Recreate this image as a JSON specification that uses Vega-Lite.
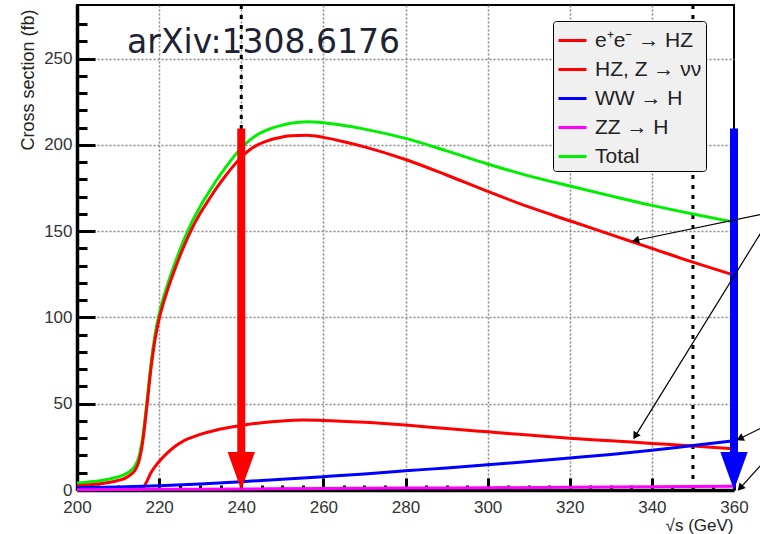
{
  "$schema": "https://vega.github.io/schema/vega-lite/v6.json",
  "width": 657,
  "height": 485,
  "autosize": {"type": "none"},
  "padding": {"left": 77, "top": 5, "right": 26, "bottom": 44},
  "background": "white",
  "config": {
    "font": "Liberation Sans",
    "view": {"stroke": "black", "strokeWidth": 2}
  },
  "datasets": {
    "curves": [
      {"process": "Total", "x": 200, "y": 4.0},
      {"process": "Total", "x": 204, "y": 4.9},
      {"process": "Total", "x": 208, "y": 6.4},
      {"process": "Total", "x": 210, "y": 7.6},
      {"process": "Total", "x": 212, "y": 9.5},
      {"process": "Total", "x": 213, "y": 11.1},
      {"process": "Total", "x": 214, "y": 13.5},
      {"process": "Total", "x": 215, "y": 18.6},
      {"process": "Total", "x": 216, "y": 30.6},
      {"process": "Total", "x": 217, "y": 50.7},
      {"process": "Total", "x": 218, "y": 72.8},
      {"process": "Total", "x": 219, "y": 89.8},
      {"process": "Total", "x": 220, "y": 101.9},
      {"process": "Total", "x": 222, "y": 118.6},
      {"process": "Total", "x": 224, "y": 132.4},
      {"process": "Total", "x": 226, "y": 144.6},
      {"process": "Total", "x": 228, "y": 155.3},
      {"process": "Total", "x": 230, "y": 164.3},
      {"process": "Total", "x": 232, "y": 172.1},
      {"process": "Total", "x": 234, "y": 179.6},
      {"process": "Total", "x": 236, "y": 186.3},
      {"process": "Total", "x": 238, "y": 192.6},
      {"process": "Total", "x": 240, "y": 198.2},
      {"process": "Total", "x": 242, "y": 202.6},
      {"process": "Total", "x": 244, "y": 206.0},
      {"process": "Total", "x": 246, "y": 208.3},
      {"process": "Total", "x": 248, "y": 210.1},
      {"process": "Total", "x": 250, "y": 211.4},
      {"process": "Total", "x": 252, "y": 212.5},
      {"process": "Total", "x": 256, "y": 213.4},
      {"process": "Total", "x": 260, "y": 212.8},
      {"process": "Total", "x": 265, "y": 211.2},
      {"process": "Total", "x": 270, "y": 209.1},
      {"process": "Total", "x": 280, "y": 203.7},
      {"process": "Total", "x": 290, "y": 196.5},
      {"process": "Total", "x": 300, "y": 188.9},
      {"process": "Total", "x": 310, "y": 182.0},
      {"process": "Total", "x": 320, "y": 176.1},
      {"process": "Total", "x": 330, "y": 170.4},
      {"process": "Total", "x": 340, "y": 164.9},
      {"process": "Total", "x": 350, "y": 159.9},
      {"process": "Total", "x": 360, "y": 155.2},
      {"process": "e⁺e⁻ → HZ", "x": 200, "y": 2.5},
      {"process": "e⁺e⁻ → HZ", "x": 204, "y": 3.2},
      {"process": "e⁺e⁻ → HZ", "x": 208, "y": 4.5},
      {"process": "e⁺e⁻ → HZ", "x": 210, "y": 5.5},
      {"process": "e⁺e⁻ → HZ", "x": 212, "y": 7.2},
      {"process": "e⁺e⁻ → HZ", "x": 213, "y": 8.8},
      {"process": "e⁺e⁻ → HZ", "x": 214, "y": 11},
      {"process": "e⁺e⁻ → HZ", "x": 215, "y": 16},
      {"process": "e⁺e⁻ → HZ", "x": 216, "y": 28},
      {"process": "e⁺e⁻ → HZ", "x": 217, "y": 48},
      {"process": "e⁺e⁻ → HZ", "x": 218, "y": 70},
      {"process": "e⁺e⁻ → HZ", "x": 219, "y": 87},
      {"process": "e⁺e⁻ → HZ", "x": 220, "y": 99},
      {"process": "e⁺e⁻ → HZ", "x": 222, "y": 115.5},
      {"process": "e⁺e⁻ → HZ", "x": 224, "y": 129},
      {"process": "e⁺e⁻ → HZ", "x": 226, "y": 141},
      {"process": "e⁺e⁻ → HZ", "x": 228, "y": 151.5},
      {"process": "e⁺e⁻ → HZ", "x": 230, "y": 160.3},
      {"process": "e⁺e⁻ → HZ", "x": 232, "y": 167.8},
      {"process": "e⁺e⁻ → HZ", "x": 234, "y": 175},
      {"process": "e⁺e⁻ → HZ", "x": 236, "y": 181.5},
      {"process": "e⁺e⁻ → HZ", "x": 238, "y": 187.5},
      {"process": "e⁺e⁻ → HZ", "x": 240, "y": 192.8},
      {"process": "e⁺e⁻ → HZ", "x": 242, "y": 197},
      {"process": "e⁺e⁻ → HZ", "x": 244, "y": 200},
      {"process": "e⁺e⁻ → HZ", "x": 246, "y": 202},
      {"process": "e⁺e⁻ → HZ", "x": 248, "y": 203.5},
      {"process": "e⁺e⁻ → HZ", "x": 250, "y": 204.5},
      {"process": "e⁺e⁻ → HZ", "x": 252, "y": 205.2},
      {"process": "e⁺e⁻ → HZ", "x": 256, "y": 205.5},
      {"process": "e⁺e⁻ → HZ", "x": 260, "y": 204.3},
      {"process": "e⁺e⁻ → HZ", "x": 265, "y": 201.8},
      {"process": "e⁺e⁻ → HZ", "x": 270, "y": 198.8},
      {"process": "e⁺e⁻ → HZ", "x": 280, "y": 191.5},
      {"process": "e⁺e⁻ → HZ", "x": 290, "y": 182.5},
      {"process": "e⁺e⁻ → HZ", "x": 300, "y": 173},
      {"process": "e⁺e⁻ → HZ", "x": 310, "y": 164},
      {"process": "e⁺e⁻ → HZ", "x": 320, "y": 156},
      {"process": "e⁺e⁻ → HZ", "x": 330, "y": 148},
      {"process": "e⁺e⁻ → HZ", "x": 340, "y": 140},
      {"process": "e⁺e⁻ → HZ", "x": 350, "y": 132},
      {"process": "e⁺e⁻ → HZ", "x": 360, "y": 124.5},
      {"process": "HZ, Z → νν", "x": 215, "y": 0},
      {"process": "HZ, Z → νν", "x": 216, "y": 1},
      {"process": "HZ, Z → νν", "x": 217, "y": 5},
      {"process": "HZ, Z → νν", "x": 218, "y": 10},
      {"process": "HZ, Z → νν", "x": 219, "y": 13.5},
      {"process": "HZ, Z → νν", "x": 220, "y": 16.5},
      {"process": "HZ, Z → νν", "x": 222, "y": 21.5},
      {"process": "HZ, Z → νν", "x": 224, "y": 25.5},
      {"process": "HZ, Z → νν", "x": 226, "y": 28.5},
      {"process": "HZ, Z → νν", "x": 228, "y": 30.5},
      {"process": "HZ, Z → νν", "x": 230, "y": 32.2},
      {"process": "HZ, Z → νν", "x": 234, "y": 34.8},
      {"process": "HZ, Z → νν", "x": 238, "y": 36.6},
      {"process": "HZ, Z → νν", "x": 240, "y": 37.4},
      {"process": "HZ, Z → νν", "x": 245, "y": 39},
      {"process": "HZ, Z → νν", "x": 250, "y": 40},
      {"process": "HZ, Z → νν", "x": 255, "y": 40.5},
      {"process": "HZ, Z → νν", "x": 260, "y": 40.3},
      {"process": "HZ, Z → νν", "x": 270, "y": 39.2},
      {"process": "HZ, Z → νν", "x": 280, "y": 37.6},
      {"process": "HZ, Z → νν", "x": 290, "y": 35.6},
      {"process": "HZ, Z → νν", "x": 300, "y": 33.7},
      {"process": "HZ, Z → νν", "x": 310, "y": 31.8},
      {"process": "HZ, Z → νν", "x": 320, "y": 30},
      {"process": "HZ, Z → νν", "x": 330, "y": 28.5},
      {"process": "HZ, Z → νν", "x": 340, "y": 27},
      {"process": "HZ, Z → νν", "x": 350, "y": 25.5},
      {"process": "HZ, Z → νν", "x": 360, "y": 23.8},
      {"process": "WW → H", "x": 200, "y": 1.3},
      {"process": "WW → H", "x": 210, "y": 1.8},
      {"process": "WW → H", "x": 220, "y": 2.5},
      {"process": "WW → H", "x": 230, "y": 3.5},
      {"process": "WW → H", "x": 240, "y": 4.8},
      {"process": "WW → H", "x": 250, "y": 6.2},
      {"process": "WW → H", "x": 260, "y": 7.7},
      {"process": "WW → H", "x": 270, "y": 9.3},
      {"process": "WW → H", "x": 280, "y": 11.1},
      {"process": "WW → H", "x": 290, "y": 12.8},
      {"process": "WW → H", "x": 300, "y": 14.6},
      {"process": "WW → H", "x": 310, "y": 16.5},
      {"process": "WW → H", "x": 320, "y": 18.5},
      {"process": "WW → H", "x": 330, "y": 20.6},
      {"process": "WW → H", "x": 340, "y": 23},
      {"process": "WW → H", "x": 350, "y": 25.8},
      {"process": "WW → H", "x": 360, "y": 28.5},
      {"process": "ZZ → H", "x": 200, "y": 0.2},
      {"process": "ZZ → H", "x": 220, "y": 0.4},
      {"process": "ZZ → H", "x": 240, "y": 0.6},
      {"process": "ZZ → H", "x": 260, "y": 0.8},
      {"process": "ZZ → H", "x": 280, "y": 1.1},
      {"process": "ZZ → H", "x": 300, "y": 1.3},
      {"process": "ZZ → H", "x": 320, "y": 1.6},
      {"process": "ZZ → H", "x": 340, "y": 1.9},
      {"process": "ZZ → H", "x": 360, "y": 2.2}
    ],
    "vlines": [{"x": 240}, {"x": 350}],
    "big": [
      {"id": "red", "x": 240, "y": 209.5, "y2": 21, "hy": 11},
      {"id": "blue", "x": 360, "y": 209.5, "y2": 21, "hy": 11}
    ],
    "thin": [
      {"id": 1, "x": 366.6, "y": 159.7, "x2": 336.3, "y2": 144.7},
      {"id": 2, "x": 366.6, "y": 149.3, "x2": 336.1, "y2": 31.8},
      {"id": 3, "x": 366.6, "y": 35.9, "x2": 361.7, "y2": 30.1},
      {"id": 4, "x": 366.6, "y": 14.5, "x2": 361.7, "y2": 1.7}
    ],
    "label": [{"x": 212.2, "y": 253, "t": "arXiv:1308.6176"}]
  },
  "layer": [
    {
      "data": {"name": "vlines"},
      "mark": {"type": "rule", "color": "black", "strokeWidth": 3, "strokeDash": [4, 6]},
      "encoding": {
        "x": {"field": "x", "type": "quantitative"}
      }
    },
    {
      "data": {"name": "curves"},
      "mark": {"type": "line", "strokeWidth": 3, "interpolate": "monotone"},
      "encoding": {
        "x": {
          "field": "x", "type": "quantitative",
          "scale": {"domain": [200, 360], "nice": false, "zero": false},
          "axis": {
            "values": [200,205,210,215,220,225,230,235,240,245,250,255,260,265,270,275,280,285,290,295,300,305,310,315,320,325,330,335,340,345,350,355,360],
            "tickCount": 200,
            "title": "√s (GeV)",
            "titleX": 656, "titleY": 35, "titleAlign": "right", "titleBaseline": "middle",
            "titleFontSize": 17, "titleFontWeight": "normal", "titleColor": "#222",
            "labelExpr": "datum.value % 20 === 0 ? datum.label : ''",
            "labelFontSize": 17, "labelColor": "#333", "labelPadding": 21,
            "labelFlush": false, "labelOverlap": false,
            "tickSize": {"condition": {"test": "datum.value % 20 === 0", "value": -12}, "value": -5},
            "tickWidth": 3, "tickColor": "black",
            "domainColor": "black", "domainWidth": 3.5,
            "grid": true, "gridColor": "#888", "gridDash": [2, 2], "gridWidth": 1.5,
            "gridOpacity": {"condition": {"test": "datum.value % 20 === 0 && datum.value > 200 && datum.value < 360", "value": 1}, "value": 0}
          }
        },
        "y": {
          "field": "y", "type": "quantitative",
          "scale": {"domain": [0, 281], "nice": false},
          "axis": {
            "values": [0,10,20,30,40,50,60,70,80,90,100,110,120,130,140,150,160,170,180,190,200,210,220,230,240,250,260,270],
            "tickCount": 200,
            "title": "Cross section (fb)",
            "titleX": -49, "titleY": 4, "titleAngle": -90, "titleAlign": "right", "titleBaseline": "middle",
            "titleFontSize": 18, "titleFontWeight": "normal", "titleColor": "#222",
            "labelExpr": "datum.value % 50 === 0 ? datum.label : ''",
            "labelFontSize": 17, "labelColor": "#333", "labelPadding": 23,
            "labelFlush": false, "labelOverlap": false,
            "tickSize": {"condition": {"test": "datum.value % 50 === 0", "value": -18}, "value": -10},
            "tickWidth": 3, "tickColor": "black",
            "domainColor": "black", "domainWidth": 3.5,
            "grid": true, "gridColor": "#888", "gridDash": [2, 2], "gridWidth": 1.5,
            "gridOpacity": {"condition": {"test": "datum.value % 50 === 0 && datum.value > 0", "value": 1}, "value": 0}
          }
        },
        "color": {
          "field": "process", "type": "nominal",
          "scale": {
            "domain": ["e⁺e⁻ → HZ", "HZ, Z → νν", "WW → H", "ZZ → H", "Total"],
            "range": ["#ff0000", "#ff0000", "#0000ff", "#ff00ff", "#00ee00"]
          },
          "legend": {
            "orient": "none", "legendX": 476, "legendY": 16, "title": null,
            "symbolType": "stroke", "symbolSize": 784, "symbolStrokeWidth": 3,
            "labelFontSize": 21, "labelColor": "#222", "labelOffset": 7,
            "fillColor": "#f0f0f0", "strokeColor": "black", "cornerRadius": 3,
            "padding": 4, "rowPadding": 3
          }
        },
        "order": {"field": "x", "type": "quantitative"}
      }
    },
    {
      "data": {"name": "big"},
      "transform": [{"filter": "datum.id === 'red'"}],
      "layer": [
        {
          "mark": {"type": "rule", "color": "#ff0000", "strokeWidth": 8, "strokeCap": "butt"},
          "encoding": {
            "x": {"field": "x", "type": "quantitative"},
            "y": {"field": "y", "type": "quantitative"},
            "y2": {"field": "y2"}
          }
        },
        {
          "mark": {"type": "point", "shape": "M -0.72 -1 L 0.72 -1 L 0 1 Z", "size": 1444, "filled": true, "color": "#ff0000", "opacity": 1},
          "encoding": {
            "x": {"field": "x", "type": "quantitative"},
            "y": {"field": "hy", "type": "quantitative"}
          }
        }
      ]
    },
    {
      "data": {"name": "big"},
      "transform": [{"filter": "datum.id === 'blue'"}],
      "layer": [
        {
          "mark": {"type": "rule", "color": "#0000ff", "strokeWidth": 8, "strokeCap": "butt", "clip": false},
          "encoding": {
            "x": {"field": "x", "type": "quantitative"},
            "y": {"field": "y", "type": "quantitative"},
            "y2": {"field": "y2"}
          }
        },
        {
          "mark": {"type": "point", "shape": "M -0.72 -1 L 0.72 -1 L 0 1 Z", "size": 1444, "filled": true, "color": "#0000ff", "opacity": 1, "clip": false},
          "encoding": {
            "x": {"field": "x", "type": "quantitative"},
            "y": {"field": "hy", "type": "quantitative"}
          }
        }
      ]
    },
    {
      "data": {"name": "thin"},
      "mark": {"type": "rule", "color": "black", "strokeWidth": 1.2, "clip": false},
      "encoding": {
        "x": {"field": "x", "type": "quantitative"},
        "y": {"field": "y", "type": "quantitative"},
        "x2": {"field": "x2"},
        "y2": {"field": "y2"}
      }
    },
    {
      "data": {"name": "thin"},
      "transform": [{"filter": "datum.id === 1"}],
      "mark": {"type": "point", "shape": "triangle", "size": 70, "filled": true, "color": "black", "opacity": 1, "angle": 258, "clip": false},
      "encoding": {"x": {"field": "x2", "type": "quantitative"}, "y": {"field": "y2", "type": "quantitative"}}
    },
    {
      "data": {"name": "thin"},
      "transform": [{"filter": "datum.id === 2"}],
      "mark": {"type": "point", "shape": "triangle", "size": 70, "filled": true, "color": "black", "opacity": 1, "angle": 212, "clip": false},
      "encoding": {"x": {"field": "x2", "type": "quantitative"}, "y": {"field": "y2", "type": "quantitative"}}
    },
    {
      "data": {"name": "thin"},
      "transform": [{"filter": "datum.id === 3"}],
      "mark": {"type": "point", "shape": "triangle", "size": 70, "filled": true, "color": "black", "opacity": 1, "angle": 243, "clip": false},
      "encoding": {"x": {"field": "x2", "type": "quantitative"}, "y": {"field": "y2", "type": "quantitative"}}
    },
    {
      "data": {"name": "thin"},
      "transform": [{"filter": "datum.id === 4"}],
      "mark": {"type": "point", "shape": "triangle", "size": 70, "filled": true, "color": "black", "opacity": 1, "angle": 222, "clip": false},
      "encoding": {"x": {"field": "x2", "type": "quantitative"}, "y": {"field": "y2", "type": "quantitative"}}
    },
    {
      "data": {"name": "label"},
      "mark": {"type": "text", "font": "DejaVu Sans", "fontSize": 33, "align": "left", "baseline": "alphabetic", "color": "#1d2333"},
      "encoding": {
        "x": {"field": "x", "type": "quantitative"},
        "y": {"field": "y", "type": "quantitative"},
        "text": {"field": "t"}
      }
    }
  ]
}
